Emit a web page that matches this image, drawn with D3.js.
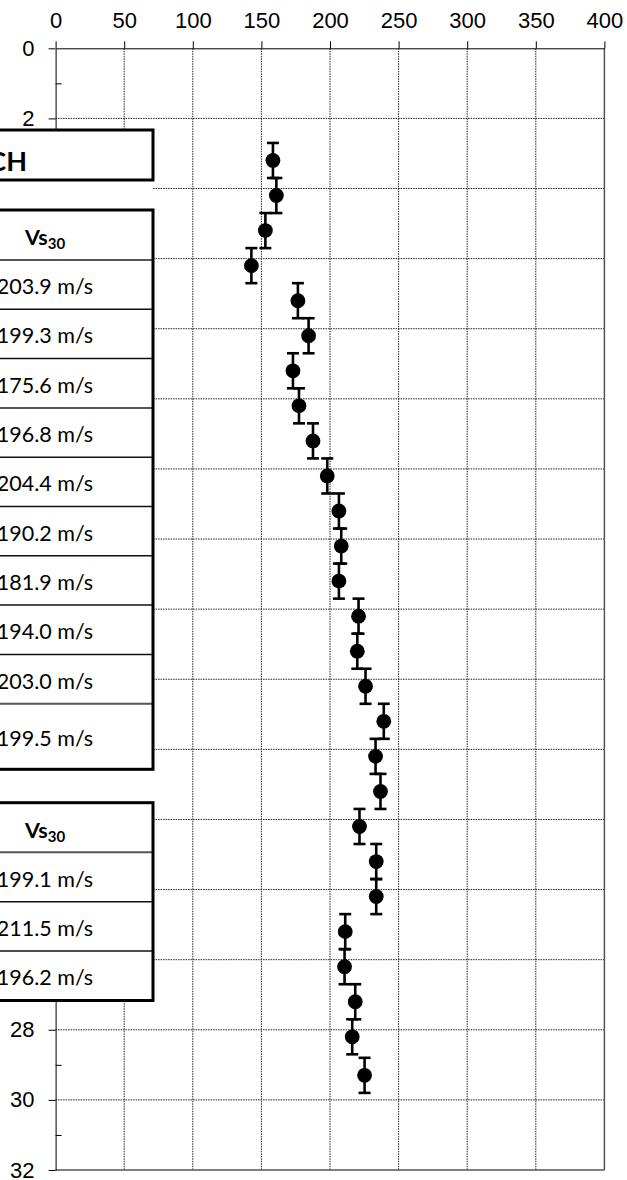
<!DOCTYPE html>
<html>
<head>
<meta charset="utf-8">
<script src="https://cdn.jsdelivr.net/npm/d3@7"></script>
<style>
  body { margin: 0; background: #fff; overflow: hidden; }
  svg { display: block; }
</style>
</head>
<body>
<div id="chart"></div>
<script>
// Measured profile: depth (m) and shear-wave velocity Vs (m/s)
const depth = [3.2, 4.2, 5.2, 6.2, 7.2, 8.2, 9.2, 10.2, 11.2, 12.2, 13.2, 14.2, 15.2, 16.2,
               17.2, 18.2, 19.2, 20.2, 21.2, 22.2, 23.2, 24.2, 25.2, 26.2, 27.2, 28.2, 29.3];
const vs = [158.4, 160.9, 152.9, 142.7, 176.6, 184.4, 173.0, 177.4, 187.6, 198.0, 206.5, 208.2, 206.5, 220.8,
            219.9, 225.9, 239.2, 233.2, 236.8, 221.5, 233.7, 233.7, 211.1, 210.6, 218.4, 216.2, 225.2];
const depthErr = 0.5;   // half-height of the error bars, in m

// Axis ticks
const xTicks = [0, 50, 100, 150, 200, 250, 300, 350, 400];
const yMajor = [0, 2, 4, 6, 8, 10, 12, 14, 16, 18, 20, 22, 24, 26, 28, 30, 32];
const yMinor = [1, 3, 5, 7, 9, 11, 13, 15, 17, 19, 21, 23, 25, 27, 29, 31];
// labels left visible (the rest sit under the table)
const yLabelled = [0, 2, 28, 30, 32];

// Vs30 table overlay
const tableTitle = "CH";
const vs30Header = "Vs";
const vs30Sub = "30";
const groupA = [203.9, 199.3, 175.6, 196.8, 204.4, 190.2, 181.9, 194.0, 203.0, 199.5];
const groupB = [199.1, 211.5, 196.2];

const W = 627, H = 1180;

const svg = d3.select("#chart")
    .append("svg")
    .attr("width", W)
    .attr("height", H);

const x = d3.scaleLinear().domain([0, 400]).range([55.6, 604.4]);
const y = d3.scaleLinear().domain([0, 32]).range([48.3, 1170]);

const axisFont = "'Liberation Sans', Arial, sans-serif";
const tableFont = "Lato, 'Open Sans', sans-serif";

// Gridlines (dotted)
const grid = svg.append("g");
grid.selectAll(".vgrid")
    .data(xTicks.filter(d => d > 0 && d < 400))
    .enter().append("line")
    .attr("x1", d => x(d)).attr("x2", d => x(d))
    .attr("y1", y(0)).attr("y2", y(32))
    .attr("stroke", "#222").attr("stroke-width", 1)
    .attr("stroke-dasharray", "1.5,1");
grid.selectAll(".hgrid")
    .data(yMajor.filter(d => d > 0 && d < 32))
    .enter().append("line")
    .attr("x1", x(0)).attr("x2", x(400))
    .attr("y1", d => y(d)).attr("y2", d => y(d))
    .attr("stroke", "#222").attr("stroke-width", 1)
    .attr("stroke-dasharray", "1.5,1");

// Plot border right & bottom
svg.append("line")
    .attr("x1", x(400)).attr("x2", x(400)).attr("y1", y(0)).attr("y2", y(32))
    .attr("stroke", "#555").attr("stroke-width", 1.5);
svg.append("line")
    .attr("x1", x(0)).attr("x2", x(400)).attr("y1", y(32)).attr("y2", y(32))
    .attr("stroke", "#555").attr("stroke-width", 1.5);

// Top X axis
const xAxis = svg.append("g")
    .attr("transform", "translate(0," + y(0) + ")")
    .call(d3.axisTop(x).tickValues(xTicks).tickSize(7).tickSizeOuter(0).tickPadding(13));
xAxis.selectAll("text").attr("font-family", axisFont).attr("font-size", 22).attr("fill", "#000");

// Left Y axis (major outward, minor inward)
const yAxis = svg.append("g")
    .attr("transform", "translate(" + x(0) + ",0)")
    .call(d3.axisLeft(y).tickValues(yMajor).tickSize(7).tickSizeOuter(0).tickPadding(14)
        .tickFormat(d => yLabelled.includes(d) ? d : ""));
yAxis.selectAll("text").attr("font-family", axisFont).attr("font-size", 22).attr("fill", "#000");
yAxis.selectAll("text").filter(function () { return this.textContent === ""; }).remove();

svg.append("g")
    .attr("transform", "translate(" + x(0) + ",0)")
    .call(d3.axisRight(y).tickValues(yMinor).tickSize(6).tickFormat(""))
    .call(g => g.selectAll("text").remove())
    .select(".domain").remove();

svg.selectAll(".domain").attr("stroke", "#000");
svg.selectAll(".tick line").attr("stroke", "#000");

// Error bars + points
const pts = depth.map((d, i) => ({ d: d, v: vs[i] }));
const marks = svg.append("g");
marks.selectAll(".err")
    .data(pts).enter().append("line")
    .attr("x1", p => x(p.v)).attr("x2", p => x(p.v))
    .attr("y1", p => y(p.d - depthErr)).attr("y2", p => y(p.d + depthErr))
    .attr("stroke", "#000").attr("stroke-width", 2.6);
marks.selectAll(".capTop")
    .data(pts).enter().append("line")
    .attr("x1", p => x(p.v) - 6).attr("x2", p => x(p.v) + 6)
    .attr("y1", p => y(p.d - depthErr)).attr("y2", p => y(p.d - depthErr))
    .attr("stroke", "#000").attr("stroke-width", 2.6);
marks.selectAll(".capBot")
    .data(pts).enter().append("line")
    .attr("x1", p => x(p.v) - 6).attr("x2", p => x(p.v) + 6)
    .attr("y1", p => y(p.d + depthErr)).attr("y2", p => y(p.d + depthErr))
    .attr("stroke", "#000").attr("stroke-width", 2.6);
marks.selectAll("circle")
    .data(pts).enter().append("circle")
    .attr("cx", p => x(p.v)).attr("cy", p => y(p.d))
    .attr("r", 7.4).attr("fill", "#000");

// Table overlay on the left (cropped by the page edge)
const tbl = svg.append("g");
const tRight = 153, tLeft = -20;
tbl.append("rect")
    .attr("x", tLeft).attr("y", 130).attr("width", tRight - tLeft).attr("height", 871)
    .attr("fill", "#fff");

// Title box
tbl.append("rect")
    .attr("x", tLeft).attr("y", 130).attr("width", tRight - tLeft).attr("height", 50)
    .attr("fill", "#fff").attr("stroke", "#000").attr("stroke-width", 3);
tbl.append("text")
    .attr("x", 27).attr("y", 171)
    .attr("text-anchor", "end")
    .attr("font-family", tableFont).attr("font-weight", "bold").attr("font-size", 27)
    .text(tableTitle);

function drawTable(top, headH, rowH, lastH, values, grayRows) {
    const rows = values.map((v, i) => ({
        v: v,
        y0: top + headH + i * rowH,
        h: i === values.length - 1 ? lastH : rowH
    }));
    const bottom = rows[rows.length - 1].y0 + rows[rows.length - 1].h;
    const g = tbl.append("g");
    g.append("rect")
        .attr("x", tLeft).attr("y", top).attr("width", tRight - tLeft).attr("height", bottom - top)
        .attr("fill", "#fff");
    const head = g.append("text")
        .attr("x", 45).attr("y", top + headH / 2 + 10)
        .attr("text-anchor", "middle")
        .attr("font-family", tableFont).attr("font-weight", "bold").attr("font-size", 21.5);
    head.append("tspan").text(vs30Header);
    head.append("tspan").attr("font-size", 15).attr("dy", 4).text(vs30Sub);

    g.selectAll(".sep")
        .data(rows).enter().append("line")
        .attr("x1", tLeft).attr("x2", tRight)
        .attr("y1", r => r.y0).attr("y2", r => r.y0)
        .attr("stroke", (r, i) => grayRows.includes(i) ? "#555" : "#111")
        .attr("stroke-width", (r, i) => grayRows.includes(i) ? 2 : 1.5);
    g.selectAll(".val")
        .data(rows).enter().append("text")
        .attr("x", 45).attr("y", r => r.y0 + r.h / 2 + 9.5)
        .attr("text-anchor", "middle")
        .attr("font-family", tableFont).attr("font-size", 21.5)
        .text(r => d3.format(".1f")(r.v) + " m/s");
    g.append("rect")
        .attr("x", tLeft).attr("y", top).attr("width", tRight - tLeft).attr("height", bottom - top)
        .attr("fill", "none").attr("stroke", "#000").attr("stroke-width", 3);
}

drawTable(210, 50, 49.3, 65.6, groupA, [0, 3, 9]);
drawTable(802.7, 49.6, 49.4, 49.4, groupB, [0]);
</script>
</body>
</html>
